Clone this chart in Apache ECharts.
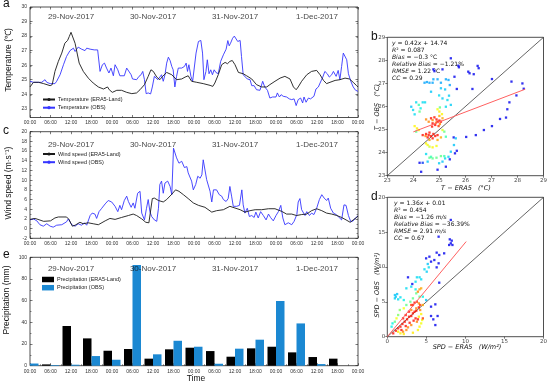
<!DOCTYPE html>
<html><head><meta charset="utf-8">
<script src="https://cdn.jsdelivr.net/npm/echarts@6/dist/echarts.min.js"></script>
<style>html,body{margin:0;padding:0;background:#fff}#c{width:550px;height:385px}</style>
</head><body><div id="c"></div>
<script>
// ---------- data ----------
const timeLabels = ['00:00','06:00','12:00','18:00','00:00','06:00','12:00','18:00','00:00','06:00','12:00','18:00','00:00','06:00','12:00','18:00','00:00'];
const dateLabels = ['29-Nov-2017','30-Nov-2017','31-Nov-2017','1-Dec-2017'];
const dateHours = [12,36,60,84];

const tempERA5 = [[0,24.5],[1,24.82],[2.5,24.82],[4,24.73],[5.9,24.59],[6.5,24.66],[7.3,25.57],[8.3,26.26],[9.3,26.83],[10.2,27.51],[11,27.7],[11.5,27.97],[12,28.26],[12.5,28.2],[13.2,27.5],[13.9,26.7],[14.4,26.14],[15.6,25.57],[17.1,25.1],[18.5,24.77],[20,24.5],[21.5,24.36],[22,24.36],[22.7,24.5],[23.2,24.31],[24.1,24.13],[25.4,24.27],[26.8,24.27],[28.3,24.13],[29.8,24.04],[31.2,24.09],[32.2,24.31],[33.5,24.66],[34.6,25.23],[35.4,25.68],[36.1,25.57],[37.1,25.18],[38,25.0],[38.7,25.2],[40,25.5],[41.5,25.34],[42.9,25.0],[44.4,25.05],[45.4,25.18],[46.3,25.27],[47.3,24.89],[48.8,24.82],[50.7,24.73],[52.7,24.61],[53.5,24.54],[54.1,24.77],[55.1,25.34],[56.1,26.03],[57.1,26.19],[57.8,26.1],[58.5,26.26],[59.2,26.32],[60,26.03],[61,25.5],[62.4,25.41],[63.4,25.27],[64.9,25.05],[66.3,24.66],[67.8,24.5],[69.3,24.5],[70.2,24.66],[71.7,24.89],[73.2,25.11],[74.6,25.23],[76.1,25.05],[77.1,24.5],[77.9,24.31],[78.5,24.5],[79.5,24.89],[81,25.34],[82.4,25.57],[83.9,25.64],[84.9,25.34],[85.9,24.95],[86.8,24.73],[87.8,24.82],[89.3,24.95],[90.7,25.0],[92.2,25.11],[93.5,25.05],[94.6,24.82],[95.6,24.59],[96,24.5]];
const tempOBS = [[0,24.89],[1,24.82],[3.4,24.82],[4.4,25.0],[4.9,24.82],[5.9,24.73],[7.3,24.73],[7.8,24.89],[8.8,25.34],[9.8,26.03],[10.7,26.6],[11.7,27.0],[12.7,27.17],[13.2,26.94],[13.7,27.05],[14.1,27.24],[15.1,27.1],[15.6,27.17],[16.1,27.0],[16.6,27.17],[17.1,27.05],[17.6,27.1],[18.1,27.0],[18.8,27.05],[19.8,27.05],[20.5,25.57],[21.2,26.03],[21.8,26.14],[22.4,25.8],[23.1,25.46],[23.7,25.8],[24.4,25.27],[24.9,26.03],[25.7,25.68],[26.3,25.27],[27.6,25.27],[28.3,25.8],[28.8,25.91],[29.6,25.34],[30,25.05],[30.5,25.18],[31.2,25.0],[31.9,25.23],[32.5,25.34],[33,25.57],[33.5,25.0],[34,24.04],[34.6,24.09],[35.3,24.02],[35.8,24.5],[36.4,25.23],[36.9,25.34],[37.4,25.0],[38,25.18],[38.5,25.34],[39,24.89],[39.5,25.34],[40,26.14],[40.5,26.55],[41,26.32],[41.5,25.91],[41.9,25.68],[42.4,24.5],[42.9,25.23],[43.4,25.8],[44.4,25.8],[45.2,25.91],[45.7,26.14],[46.1,25.57],[46.5,26.03],[47.1,25.23],[47.6,24.89],[48.6,26.83],[49.3,27.63],[50,27.7],[50.5,26.83],[50.9,25.0],[51.5,25.57],[51.9,26.37],[52.4,25.41],[52.9,25.68],[53.4,25.34],[53.9,25.68],[54.4,25.5],[55.1,25.41],[55.8,26.26],[56.6,26.71],[57.4,27.1],[57.9,27.69],[58.3,27.33],[58.7,27.51],[59.3,27.85],[59.8,28.0],[60.3,28.08],[60.8,27.63],[61.5,27.7],[61.9,26.6],[62.4,25.34],[62.9,25.46],[63.6,25.05],[64.4,25.0],[64.9,24.59],[65.6,24.59],[66.3,24.31],[67.3,24.27],[68.1,24.89],[68.7,24.5],[69.5,24.27],[70.2,23.74],[71,23.81],[72,23.81],[72.4,24.09],[73,23.81],[73.5,23.97],[74.1,23.86],[75.1,23.81],[75.9,23.68],[76.6,23.63],[77.3,23.68],[77.9,23.22],[78.5,23.63],[79.2,23.74],[79.8,23.4],[80.2,23.81],[80.8,23.45],[81.5,23.74],[82.1,23.68],[83.1,23.86],[83.7,24.36],[84.4,24.5],[84.9,24.77],[85.7,25.18],[86.3,25.57],[87,25.41],[87.6,25.18],[88.3,25.34],[88.8,25.57],[89.6,25.23],[90.2,25.64],[90.7,25.0],[91.2,25.91],[91.7,26.83],[92.2,26.78],[92.7,26.37],[93.2,25.41],[93.9,24.89],[94.6,24.5],[95.3,24.27],[96,24.2]];

const windERA5 = [[0,1.9],[1.5,2.1],[4,1.5],[6,1.6],[7.3,2.2],[8.3,2.4],[10.7,2.4],[11.4,1.9],[12.4,0.5],[13.2,0.7],[14.6,1.3],[15.6,1.0],[17,1.2],[18.5,1.0],[20,0.8],[22,1.6],[23.4,2.1],[24.9,1.9],[26.8,2.3],[28.8,2.7],[30.2,3.0],[31.2,2.7],[32.7,2.0],[33.9,1.3],[34.8,1.2],[35.8,6.2],[36.4,6.3],[37.6,5.8],[39,5.5],[40,6.0],[41.5,7.1],[42.6,8.0],[43.6,7.7],[44.9,7.0],[46.3,6.2],[47.8,5.3],[49.3,4.8],[51.2,4.4],[53.2,3.4],[54.6,3.7],[56.6,3.9],[58.5,4.6],[60,4.25],[61.5,3.9],[62.9,3.4],[64.4,3.7],[65.9,3.9],[67.8,3.9],[69.8,4.1],[71.7,4.1],[73.7,3.55],[75.1,3.0],[76.6,3.0],[78,2.7],[79.5,2.9],[81,3.0],[82.4,3.7],[83.9,4.1],[85.4,3.7],[86.8,3.2],[88.3,3.0],[89.8,2.7],[91.2,2.3],[92.5,1.8],[93.7,1.3],[94.6,1.8],[95.6,2.3],[96,2.6]];
const windOBS = [[0,1.8],[1,2.0],[2,1.6],[2.9,0.8],[3.9,0.5],[4.9,1.0],[5.9,0.5],[6.8,0.3],[7.8,0.7],[9.3,0.8],[10.7,1.4],[11.2,2.0],[12.2,0.8],[13.2,0.5],[14.1,1.0],[15.1,0.7],[15.9,1.2],[16.6,0.7],[17.6,2.7],[18.2,3.2],[19,3.0],[19.5,2.1],[20.2,3.5],[21,4.2],[22,5.1],[22.9,5.8],[23.9,5.5],[24.9,4.6],[25.7,3.5],[26.3,4.8],[26.8,3.9],[27.6,5.8],[28.3,6.7],[28.8,5.6],[29.6,4.4],[30.2,5.3],[30.7,4.2],[31.5,7.3],[32.2,7.7],[32.7,3.2],[33.5,1.8],[34.1,4.2],[34.6,6.0],[35.1,3.5],[35.6,2.5],[36.4,1.8],[37.1,1.5],[37.6,4.2],[38,9.1],[38.5,9.8],[39,7.3],[39.5,9.4],[40.3,9.8],[41,8.7],[41.5,7.0],[42,16.6],[42.4,17.0],[42.9,14.6],[43.6,13.5],[44.4,13.9],[45.2,12.6],[45.9,12.8],[46.3,11.5],[47.3,9.8],[47.8,8.0],[48.5,9.1],[49.1,10.8],[49.8,10.4],[50.3,11.1],[50.7,14.2],[51.7,10.1],[52.7,7.7],[53.2,5.5],[53.7,8.0],[54.6,8.0],[55.4,7.0],[56.1,6.7],[56.6,6.0],[57.4,5.6],[58,6.2],[58.5,8.7],[59,6.7],[59.5,4.6],[60.5,4.6],[61.3,4.8],[62,8.0],[62.4,4.9],[62.9,3.2],[63.6,4.2],[64.2,2.5],[64.9,2.7],[65.6,2.3],[66.1,3.4],[66.8,2.2],[67.5,3.5],[68.3,2.7],[69.1,1.8],[69.8,3.0],[70.4,2.3],[71.2,1.6],[72,2.7],[72.7,3.5],[73.4,4.8],[74,2.2],[74.6,0.8],[75.6,1.2],[76.6,0.8],[77.3,1.5],[78.1,2.9],[78.5,5.5],[79,6.2],[79.5,3.9],[80,4.2],[80.5,2.7],[81,3.5],[81.8,2.7],[82.4,3.2],[83.1,2.9],[83.9,4.2],[84.7,6.0],[85.4,7.0],[86.1,6.3],[86.8,5.8],[87.3,6.3],[88,4.2],[88.8,3.2],[89.6,2.9],[90.2,2.5],[91.2,1.8],[91.9,4.9],[92.5,4.8],[93.2,2.7],[93.9,1.4],[94.6,1.6],[95.4,2.3],[96,2.6]];

const precipHours = [0,6,12,18,24,30,36,42,48,54,60,66,72,78,84,90];
const precipERA5 = [0,1.2,36.6,25.2,13.8,15.4,6.5,15.1,16.6,13.5,8.3,16,17.5,12.3,8,6.5];
const precipOBS  = [2,0.6,0.9,8.9,5.5,93,10.5,23,17.5,1.8,15.7,24,59.7,39,1.5,0];

// scatter points: [ERA5, OBS, density level 0..1]
const tScatter = [
[25.44,28.09,0],[25.73,27.77,0],[25.75,27.70,0],[26.11,27.51,0],[26.16,27.44,0],[26.32,27.40,0],[26.47,27.76,0],[26.51,27.66,0],[25.12,27.61,0],[24.77,27.61,0],[24.81,27.53,0],[25.58,27.29,0],[27.02,27.19,0],[27.77,27.08,0],[28.19,27.00,0],[28.24,26.77,0],[26.27,26.76,0],[25.67,26.76,0],[27.96,26.48,0],[27.69,26.18,0],[27.61,25.88,0],[27.56,25.52,0],[27.33,25.46,0],[27.02,25.15,0],[26.71,24.98,0],[26.40,24.76,0],[26.03,24.68,0],[25.55,24.66,0],[25.67,24.08,0],[25.60,23.97,0],[25.40,23.71,0],[25.25,23.39,0],[24.93,23.26,0],[24.30,23.17,0],[24.24,23.56,0],[24.36,23.56,0.05],
[24.43,27.03,0.15],[24.52,27.06,0.15],[24.62,27.03,0.15],[24.74,27.03,0.15],[24.77,27.18,0.15],[24.93,27.18,0.15],[25.06,27.03,0.15],[25.25,27.18,0.15],[25.35,27.15,0.15],[24.68,26.64,0.2],[25.06,26.79,0.2],[25.22,26.74,0.2],[25.40,26.93,0.15],
[24.36,26.18,0.25],[24.45,26.18,0.25],[24.99,26.48,0.25],[25.12,26.35,0.22],[25.31,26.28,0.25],[25.37,26.47,0.22],[25.44,26.07,0.22],[25.25,25.99,0.25],[23.92,25.99,0.2],[23.99,25.85,0.25],[24.11,26.18,0.25],[24.05,25.66,0.25],[24.28,25.92,0.3],[25.56,24.33,0.2],[25.63,24.62,0.2],[25.44,24.04,0.2],[25.35,23.82,0.22],[25.22,23.75,0.25],[24.49,23.94,0.25],[24.55,23.61,0.2],[24.99,23.54,0.22],[25.12,23.61,0.2],
[24.62,23.78,0.45],[24.74,23.75,0.45],[24.89,23.78,0.45],[25.06,23.85,0.45],[25.19,23.85,0.4],[24.68,23.82,0.4],[24.24,25.78,0.45],[24.21,26.07,0.4],[25.25,24.69,0.4],[25.19,24.91,0.45],[25.02,25.96,0.45],[24.11,24.91,0.45],
[24.05,25.15,0.68],[24.14,25.05,0.7],[24.21,24.98,0.7],[24.55,24.33,0.65],[24.74,24.23,0.68],[24.89,24.29,0.65],[25.0,25.78,0.7],[25.10,25.67,0.68],[24.93,25.88,0.65],[25.12,24.98,0.62],[24.49,24.40,0.68],[24.62,24.26,0.6],
[24.49,25.44,0.85],[24.59,25.34,0.85],[24.74,25.41,0.85],[24.87,25.30,0.85],[25.02,25.24,0.85],[25.12,25.49,0.8],[24.47,24.72,0.85],[24.93,24.55,0.8],[25.06,24.66,0.8],[24.62,24.55,0.82],[25.0,25.59,0.8],
[24.68,25.49,1],[24.81,25.53,1],[24.89,25.44,1],[25.0,25.39,1],[24.74,25.27,1],[24.84,25.2,1],[24.93,25.34,1],[25.06,25.34,1],[24.72,25.13,1],[24.97,25.15,0.95],[24.36,24.76,1],[24.49,24.81,1],[24.59,24.76,1],[24.68,24.72,1],[24.77,24.81,1],[24.84,24.72,1],[24.93,24.76,1],[24.55,24.66,1],[24.74,24.62,1],[24.62,24.87,1]
];
const wScatter = [
[8.13,16.75,0],[6.57,14.35,0],[8.0,13.97,0],[8.25,13.78,0],[8.13,13.4,0],[7.92,13.16,0],[8.34,13.16,0],[6.32,12.06,0],[6.65,11.72,0],[7.28,11.96,0],[5.39,11.48,0],[4.97,11.24,0],[6.02,11.0,0],[5.6,10.77,0],[6.57,10.53,0],[6.32,9.95,0],[6.65,7.75,0],[2.65,8.52,0],[3.2,7.56,0],[5.6,4.31,0],[6.15,4.64,0],[5.6,2.97,0],[5.89,2.49,0],[6.44,2.97,0],[6.15,1.67,0],
[5.31,9.95,0.25],[5.05,9.33,0.22],[4.76,9.67,0.25],[5.18,10.43,0.2],[4.13,8.52,0.25],[3.79,8.52,0.25],[4.34,8.23,0.25],[3.62,7.89,0.25],[3.07,7.18,0.25],[3.62,6.79,0.3],[2.44,6.94,0.25],[2.11,5.26,0.3],[1.68,5.65,0.25],[0.97,5.98,0.2],[1.09,5.74,0.2],[1.26,6.12,0.2],[0.97,5.5,0.22],[1.39,5.36,0.25],[0.67,1.91,0.3],[0.55,1.44,0.3],[4.55,5.74,0.3],[4.97,5.26,0.2],
[3.71,6.22,0.45],[3.28,5.5,0.45],[2.95,5.02,0.45],[2.44,4.55,0.45],[1.6,3.83,0.5],[1.39,3.11,0.5],[0.97,2.15,0.45],[4.13,5.74,0.45],
[2.11,4.07,0.65],[1.18,2.63,0.65],[1.39,0.72,0.7],[1.68,0.48,0.7],[2.11,0.38,0.7],[3.28,0.57,0.7],[3.92,0.96,0.68],[4.13,1.44,0.68],[4.34,1.91,0.65],[4.46,2.39,0.65],[4.04,2.87,0.7],[4.34,3.25,0.68],
[3.92,6.46,0.85],[4.13,6.79,0.82],[4.34,6.94,0.8],[4.04,4.78,0.85],[4.21,3.83,0.85],[3.71,4.07,0.85],[3.07,3.83,0.85],[2.02,0.72,0.85],[2.44,0.96,0.85],[2.65,1.34,0.85],[3.07,1.67,0.85],[3.79,2.15,0.85],[4.55,4.55,0.8],
[0.76,0.48,1],[1.09,0.86,1],[1.39,1.2,1],[1.68,1.44,1],[1.94,1.82,1],[2.23,2.15,1],[2.53,2.49,1],[2.78,2.87,1],[3.07,2.97,1],[3.28,3.35,1],[3.49,3.59,1],[3.71,3.73,1],[4.04,4.21,1],[4.21,4.55,0.95],[3.28,4.55,1],[3.49,4.88,1],[3.07,4.55,0.95],[3.79,5.02,0.95],[3.62,2.63,1],[3.92,2.49,1],[3.37,2.3,1],[2.86,2.0,1],[2.36,1.53,1],[1.81,0.96,1],[4.55,2.63,0.95],[2.78,3.59,1],[2.36,3.11,1],[2.02,2.63,1]
];
const tDiag = [[23,23],[29,29]];
const tFit  = [[24,24.9],[28.3,26.75]];
const wDiag = [[0,0],[20,20]];
const wFit  = [[0,0],[10.1,13.65]];

const tStats = ['{i|y} = 0.42{i|x} + 14.74','{i|R}² = 0.087','{i|Bias} = −0.3 °C','{i|Relative Bias} = −1.21%','{i|RMSE} = 1.22 °C','{i|CC} = 0.29'];
const wStats = ['{i|y} = 1.36{i|x} + 0.01','{i|R}² = 0.454','{i|Bias} = −1.26 {i|m/s}','{i|Relative Bias} = −36.39%','{i|RMSE} = 2.91 {i|m/s}','{i|CC} = 0.67'];

// ---------- chart ----------
const FONT = 'Liberation Sans, Arial, sans-serif';
const SFONT = 'DejaVu Sans, sans-serif';
const chart = echarts.init(document.getElementById('c'), null, {renderer:'canvas'});

const grids = [
  {left:30, top:7, width:328, height:110.5},
  {left:30, top:131.7, width:328, height:106.6},
  {left:30, top:257.3, width:328, height:108.4},
  {left:387.3, top:37.3, width:158.4, height:138.4},
  {left:387.3, top:197.3, width:158.4, height:139.4}
].map(g => Object.assign(g, {show:true, borderColor:'#222', borderWidth:0.8, containLabel:false}));

function timeX(gi, top){
  return {gridIndex:gi, type:'value', min:0, max:96, interval:6, position: top?'top':'bottom',
    axisLine:{show:false, onZero:false}, splitLine:{show:false},
    axisTick:{show:true, inside:true, length:2.5, lineStyle:{color:'#222', width:0.6}},
    minorTick:{show:true, splitNumber:2, length:1.5, lineStyle:{color:'#222', width:0.5}},
    axisLabel:{show:!top, fontSize:5, color:'#333', fontFamily:FONT, margin:3,
      formatter: v => { const k = Math.round(v/6); return timeLabels[k] !== undefined ? timeLabels[k] : ''; }}};
}
function valY(gi, right, min, max, interval, custom, minorSplit){
  const o = {gridIndex:gi, type:'value', min:min, max:max, position: right?'right':'left',
    axisLine:{show:false, onZero:false}, splitLine:{show:false},
    axisTick:{show:true, inside:true, length:2.5, lineStyle:{color:'#222', width:0.6}},
    minorTick:{show:true, splitNumber:minorSplit, length:1.5, lineStyle:{color:'#222', width:0.5}},
    axisLabel:{show:!right, fontSize:5, color:'#333', fontFamily:FONT, margin:3}};
  if (custom) { o.axisLabel.customValues = custom; o.axisTick.customValues = custom; o.interval = 1; }
  else o.interval = interval;
  return o;
}
function scatAxis(gi, min, max, interval){
  return {gridIndex:gi, type:'value', min:min, max:max, interval:interval,
    axisLine:{show:false, onZero:false}, splitLine:{show:false},
    axisTick:{show:true, inside:false, length:2, lineStyle:{color:'#222', width:0.6}},
    axisLabel:{fontSize:5.5, color:'#444', fontFamily:SFONT, margin:2}};
}
const tempTicks = [23,24,25,26,27,28,29,30];

const xAxis = [
  timeX(0,false), timeX(1,false), timeX(2,false),
  scatAxis(3,23,29,1), scatAxis(4,0,20,5),
  timeX(0,true), timeX(1,true), timeX(2,true)
];
const yAxis = [
  valY(0,false,22.4,30,1,tempTicks,2), valY(1,false,-2,20,2,null,2), valY(2,false,0,100,20,null,2),
  scatAxis(3,23,29,1), scatAxis(4,0,20,5),
  valY(0,true,22.4,30,1,tempTicks,2), valY(1,true,-2,20,2,null,2), valY(2,true,0,100,20,null,2)
];

function dateSeries(xi, yVal){
  return {type:'scatter', xAxisIndex:xi, yAxisIndex:xi, symbolSize:0, silent:true, z:5,
    data: dateHours.map((h,i)=>({name:dateLabels[i], value:[h,yVal]})),
    label:{show:true, position:'inside', formatter:'{b}', fontSize:8, color:'#111', fontFamily:FONT}};
}
const lineStyleBase = {width:0.9};
const series = [
  {name:'Temperature (ERA5-Land)', type:'line', xAxisIndex:0, yAxisIndex:0, data:tempERA5, symbol:'none', lineStyle:Object.assign({color:'#1a1a1a'},lineStyleBase), itemStyle:{color:'#1a1a1a'}, z:3},
  {name:'Temperature (OBS)', type:'line', xAxisIndex:0, yAxisIndex:0, data:tempOBS, symbol:'none', lineStyle:Object.assign({color:'#3535ff'},lineStyleBase), itemStyle:{color:'#3535ff'}, z:2},
  dateSeries(0, 29.31),
  {name:'Wind speed (ERA5-Land)', type:'line', xAxisIndex:1, yAxisIndex:1, data:windERA5, symbol:'none', lineStyle:Object.assign({color:'#1a1a1a'},lineStyleBase), itemStyle:{color:'#1a1a1a'}, z:3},
  {name:'Wind speed (OBS)', type:'line', xAxisIndex:1, yAxisIndex:1, data:windOBS, symbol:'none', lineStyle:Object.assign({color:'#3535ff'},lineStyleBase), itemStyle:{color:'#3535ff'}, z:2},
  dateSeries(1, 17.25),
  {name:'Precipitation (ERA5-Land)', type:'bar', xAxisIndex:2, yAxisIndex:2, barWidth:8.5, barGap:'0%',
    data: precipHours.map((h,i)=>[h, precipERA5[i]]), itemStyle:{color:'#000000'}},
  {name:'Precipitation (OBS)', type:'bar', xAxisIndex:2, yAxisIndex:2, barWidth:8.5, barGap:'0%',
    data: precipHours.map((h,i)=>[h, precipOBS[i]]), itemStyle:{color:'#1b88d2'}},
  dateSeries(2, 89.2),
  {name:'tS', type:'scatter', xAxisIndex:3, yAxisIndex:3, data:tScatter, symbol:'rect', symbolSize:2.3, z:3},
  {name:'tD', type:'line', xAxisIndex:3, yAxisIndex:3, data:tDiag, symbol:'none', lineStyle:{color:'#222', width:0.7}, z:2},
  {name:'tF', type:'line', xAxisIndex:3, yAxisIndex:3, data:tFit, symbol:'none', lineStyle:{color:'#ff6060', width:1}, z:4},
  {name:'wS', type:'scatter', xAxisIndex:4, yAxisIndex:4, data:wScatter, symbol:'rect', symbolSize:2.3, z:3},
  {name:'wD', type:'line', xAxisIndex:4, yAxisIndex:4, data:wDiag, symbol:'none', lineStyle:{color:'#222', width:0.7}, z:2},
  {name:'wF', type:'line', xAxisIndex:4, yAxisIndex:4, data:wFit, symbol:'none', lineStyle:{color:'#ff6060', width:1}, z:4}
];

function legendAt(top, names, icon){
  const l = {left:42, top:top, orient:'vertical', itemWidth:12, itemHeight:icon?5.5:4, itemGap:2.2,
    data:names, textStyle:{fontSize:5.5, color:'#222', fontFamily:FONT, padding:[0,0,0,-2]}, padding:0, selectedMode:false};
  if (icon) l.icon = icon;
  return l;
}

const graphic = [];
function txt(x,y,text,opt){
  graphic.push(Object.assign({type:'text', x:x, y:y, silent:true, style:Object.assign({text:text, fill:'#111', font:'11px '+FONT}, opt||{})}));
}
// panel letters
txt(3,-2,'a',{font:'12px '+FONT});
txt(3,125,'c',{font:'12px '+FONT});
txt(3,249,'e',{font:'12px '+FONT});
txt(371,31,'b',{font:'12px '+FONT});
txt(371,191,'d',{font:'12px '+FONT});
// y names
function vname(x,y,text,font){
  graphic.push({type:'text', x:x, y:y, rotation:Math.PI/2, silent:true,
    style:{text:text, fill:'#111', font:font, align:'center', verticalAlign:'middle'}});
}
vname(9,60,'Temperature (℃)','8.5px '+FONT);
vname(9,183,'Wind speed (m·s⁻¹)','8.5px '+FONT);
vname(7,300,'Precipitation (mm)','8.5px '+FONT);
graphic.push({type:'text', x:196, y:379, silent:true, style:{text:'Time', fill:'#111', font:'8.5px '+FONT, align:'center', verticalAlign:'middle'}});
// scatter axis names
graphic.push({type:'text', x:466, y:188, silent:true, style:{text:'T − ERA5   (°C)', fill:'#111', font:'italic 6.5px '+SFONT, align:'center', verticalAlign:'middle'}});
vname(377,107,'T − OBS   (°C)','italic 6.5px '+SFONT);
graphic.push({type:'text', x:467, y:347, silent:true, style:{text:'SPD − ERA5   (W/m²)', fill:'#111', font:'italic 6.5px '+SFONT, align:'center', verticalAlign:'middle'}});
vname(377,285,'SPD − OBS   (W/m²)','italic 6.5px '+SFONT);
// stats
function stats(x,y0,lines){
  lines.forEach((s,i)=>{
    graphic.push({type:'text', x:x, y:y0+i*7, silent:true,
      style:{text:s, fill:'#111', font:'6px '+SFONT, verticalAlign:'middle',
        rich:{i:{fontStyle:'italic', fontSize:6, fontFamily:SFONT, fill:'#111'}}}});
  });
}
stats(392,43.3,tStats);
stats(394,203.3,wStats);

chart.setOption({
  animation:false,
  grid:grids, xAxis:xAxis, yAxis:yAxis, series:series,
  legend:[
    legendAt(96.5,['Temperature (ERA5-Land)','Temperature (OBS)']),
    legendAt(151,['Wind speed (ERA5-Land)','Wind speed (OBS)']),
    legendAt(276.5,['Precipitation (ERA5-Land)','Precipitation (OBS)'],'rect')
  ],
  visualMap:{type:'continuous', show:false, min:0, max:1, dimension:2, seriesIndex:[9,12],
    inRange:{color:['#0000ee','#00b4ff','#00ffe0','#80ff60','#ffff00','#ff9000','#ff1000']}},
  graphic:graphic
});
</script></body></html>
